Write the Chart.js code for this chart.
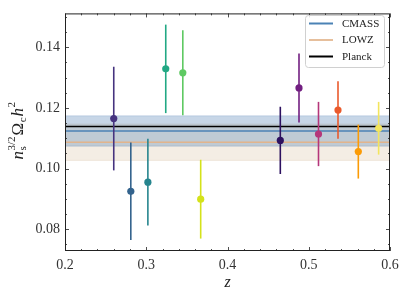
<!DOCTYPE html>
<html>
<head>
<meta charset="utf-8">
<script src="https://cdn.jsdelivr.net/npm/chart.js@4.4.0/dist/chart.umd.min.js"></script>
<style>
  html, body { margin: 0; padding: 0; background: #fff; }
  #wrap { width: 407px; height: 299px; }
</style>
</head>
<body>
<div id="wrap"><canvas id="zChart"></canvas></div>
<script>
// measurements, first sample (viridis colours)
let zA = [0.260, 0.281, 0.302, 0.324, 0.345, 0.367];
let yA = [0.1165, 0.0925, 0.0955, 0.1329, 0.1316, 0.0899];
let errA = [0.0171, 0.0161, 0.0143, 0.0146, 0.0140, 0.0130];
let colA = ['#46337f', '#33638d', '#26858e', '#22a884', '#5ec962', '#d4e21a'];

// measurements, second sample (magma / plasma colours)
let zB = [0.465, 0.488, 0.512, 0.536, 0.561, 0.586];
let yB = [0.1093, 0.1266, 0.1114, 0.1193, 0.1056, 0.1133];
let errB = [0.0111, 0.0114, 0.0106, 0.0095, 0.0089, 0.0087];
let colB = ['#2d1160', '#721f81', '#b5367a', '#ea5a2c', '#fb9b06', '#f3e55d'];

// reference values
let bandLabels = ['CMASS', 'LOWZ', 'Planck'];
let cmass = [0.1124, 0.1074, 0.1174];   // value, low, high
let lowz = [0.1087, 0.1027, 0.1147];
let planck = 0.1139;

let xTicks = [0.2, 0.3, 0.4, 0.5, 0.6];
let yTicks = [0.08, 0.10, 0.12, 0.14];
let xRange = [0.2, 0.6];
let yRange = [0.0728, 0.1512];

const serif = '"Liberation Serif", "DejaVu Serif", serif';

function hline(v) {
    return [{x: xRange[0], y: v}, {x: xRange[1], y: v}];
}
function pts(xs, ys) {
    return xs.map((x, i) => ({x: x, y: ys[i]}));
}

// error bars + inward ticks + frame + legend + axis label
const decor = {
    id: 'decor',
    beforeDatasetDraw(chart, args) {
        let ds = chart.data.datasets[args.index];
        if (!ds.errs) return;
        let xs = chart.scales.x, ys = chart.scales.y, ctx = chart.ctx;
        ctx.save();
        ctx.lineWidth = 1.6;
        ds.data.forEach((p, i) => {
            let px = xs.getPixelForValue(p.x);
            ctx.strokeStyle = ds.pointBackgroundColor[i];
            ctx.beginPath();
            ctx.moveTo(px, ys.getPixelForValue(p.y - ds.errs[i]));
            ctx.lineTo(px, ys.getPixelForValue(p.y + ds.errs[i]));
            ctx.stroke();
        });
        ctx.restore();
    },
    afterDraw(chart) {
        let ctx = chart.ctx, a = chart.chartArea;
        let xs = chart.scales.x, ys = chart.scales.y;
        ctx.save();
        ctx.strokeStyle = '#222';
        ctx.lineWidth = 0.8;
        // ticks pointing in, all four sides
        for (let v = 0.2; v <= 0.6001; v += 0.02) {
            let px = Math.round(xs.getPixelForValue(v)) + 0.5;
            let major = Math.abs(v * 10 - Math.round(v * 10)) < 1e-6;
            let len = major ? 4 : 2;
            ctx.beginPath();
            ctx.moveTo(px, a.bottom); ctx.lineTo(px, a.bottom - len);
            ctx.moveTo(px, a.top); ctx.lineTo(px, a.top + len);
            ctx.stroke();
        }
        for (let v = 0.075; v <= 0.1501; v += 0.005) {
            let py = Math.round(ys.getPixelForValue(v)) + 0.5;
            let major = Math.abs(v * 50 - Math.round(v * 50)) < 1e-6;
            let len = major ? 4 : 2;
            ctx.beginPath();
            ctx.moveTo(a.left, py); ctx.lineTo(a.left + len, py);
            ctx.moveTo(a.right, py); ctx.lineTo(a.right - len, py);
            ctx.stroke();
        }
        ctx.lineWidth = 1;
        ctx.strokeRect(a.left + 0.5, a.top + 0.5, a.right - a.left - 1, a.bottom - a.top - 1);

        // legend
        let lx = 305, ly = 15, lw = 79, lh = 52;
        ctx.fillStyle = 'rgba(255,255,255,0.85)';
        ctx.strokeStyle = '#d0d0d0';
        ctx.lineWidth = 1;
        ctx.beginPath();
        ctx.roundRect(lx + 0.5, ly + 0.5, lw, lh, 3);
        ctx.fill();
        ctx.stroke();
        let legCols = ['#4b82b5', '#e6bf9c', '#000000'];
        ctx.font = '11px ' + serif;
        ctx.textBaseline = 'middle';
        bandLabels.forEach((t, i) => {
            let yy = 23.5 + i * 16.5;
            ctx.strokeStyle = legCols[i];
            ctx.lineWidth = 2;
            ctx.beginPath();
            ctx.moveTo(309, yy); ctx.lineTo(333, yy);
            ctx.stroke();
            ctx.fillStyle = '#222';
            ctx.fillText(t, 342, yy + 0.5);
        });

        // x label
        ctx.fillStyle = '#222';
        ctx.font = 'italic 16px ' + serif;
        ctx.textAlign = 'center';
        ctx.textBaseline = 'alphabetic';
        ctx.fillText('z', (a.left + a.right) / 2, 287);

        // y label n_s^{3/2} Omega_c h^2
        let big = '17px ' + serif, bigI = 'italic 17px ' + serif, small = '11px ' + serif;
        let parts = [
            {t: 'n', f: bigI, dy: 0},
            {t: 's', f: small, dy: 3, sub: true},
            {t: '3/2', f: small, dy: -8, sup: true},
            {t: 'Ω', f: big, dy: 0},
            {t: 'c', f: small, dy: 3},
            {t: 'h', f: bigI, dy: 0},
            {t: '2', f: small, dy: -8}
        ];
        // widths, with sub and sup stacked
        let total = 0, xpos = [];
        for (let i = 0; i < parts.length; i++) {
            ctx.font = parts[i].f;
            let w = ctx.measureText(parts[i].t).width;
            parts[i].w = w;
            if (parts[i].sup) {
                xpos.push(xpos[i - 1]);
                let prevW = parts[i - 1].w;
                total = xpos[i] + Math.max(w, prevW) + 1;
            } else {
                xpos.push(total);
                total += w + (parts[i].f === small ? 1 : 0.5);
            }
        }
        ctx.translate(23, (a.top + a.bottom) / 2 - 2);
        ctx.rotate(-Math.PI / 2);
        ctx.textAlign = 'left';
        parts.forEach((p, i) => {
            ctx.font = p.f;
            ctx.fillText(p.t, xpos[i] - total / 2, p.dy);
        });
        ctx.restore();
    }
};

let bandStyle = {showLine: true, pointRadius: 0, borderWidth: 0.6, fill: false};

let zChart = new Chart(document.getElementById('zChart'), {
    type: 'scatter',
    data: {
        datasets: [
            {label: 'A', data: pts(zA, yA), errs: errA, pointBackgroundColor: colA,
             pointBorderColor: colA, pointRadius: 3.6, pointBorderWidth: 0, order: 0},
            {label: 'B', data: pts(zB, yB), errs: errB, pointBackgroundColor: colB,
             pointBorderColor: colB, pointRadius: 3.6, pointBorderWidth: 0, order: 0},
            {label: 'Planck', data: hline(planck), showLine: true, pointRadius: 0,
             borderColor: '#000', borderWidth: 1.6, order: 1},
            {label: 'CMASS', data: hline(cmass[0]), showLine: true, pointRadius: 0,
             borderColor: '#4b82b5', borderWidth: 1.6, order: 2},
            {label: 'LOWZ', data: hline(lowz[0]), showLine: true, pointRadius: 0,
             borderColor: '#e2b48c', borderWidth: 1.4, order: 3},
            // CMASS band
            Object.assign({data: hline(cmass[2]), borderColor: 'rgba(70,120,175,0.35)', order: 4}, bandStyle),
            Object.assign({}, bandStyle, {data: hline(cmass[1]), borderColor: 'rgba(70,120,175,0.35)',
             fill: '-1', backgroundColor: 'rgba(70,120,175,0.3)', order: 5}),
            // LOWZ band
            Object.assign({data: hline(lowz[2]), borderColor: 'rgba(200,165,120,0.3)', order: 6}, bandStyle),
            Object.assign({}, bandStyle, {data: hline(lowz[1]), borderColor: 'rgba(200,165,120,0.3)',
             fill: '-1', backgroundColor: 'rgba(200,165,120,0.2)', order: 7})
        ]
    },
    options: {
        responsive: true,
        maintainAspectRatio: false,
        animation: false,
        layout: {padding: {left: 0, right: 17, top: 9, bottom: 0}},
        plugins: {legend: {display: false}, tooltip: {enabled: false}},
        scales: {
            x: {
                type: 'linear', min: xRange[0], max: xRange[1],
                grid: {display: false, drawTicks: false}, border: {display: false},
                afterBuildTicks: s => { s.ticks = xTicks.map(v => ({value: v})); },
                afterFit: s => { s.height = 48; },
                ticks: {color: '#333', padding: 6, font: {family: serif, size: 14},
                        callback: v => v.toFixed(1), maxRotation: 0}
            },
            y: {
                type: 'linear', min: yRange[0], max: yRange[1],
                grid: {display: false, drawTicks: false}, border: {display: false},
                afterBuildTicks: s => { s.ticks = yTicks.map(v => ({value: v})); },
                afterFit: s => { s.width = 65; },
                ticks: {color: '#333', padding: 5, font: {family: serif, size: 14},
                        callback: v => v.toFixed(2)}
            }
        }
    },
    plugins: [decor]
});
</script>
</body>
</html>
